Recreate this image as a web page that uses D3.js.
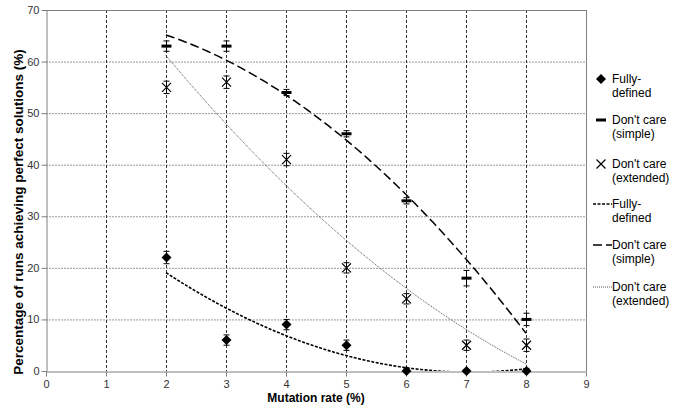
<!DOCTYPE html>
<html><head><meta charset="utf-8">
<script src="https://cdn.jsdelivr.net/npm/d3@7"></script>
<style>body{margin:0;background:#fff}svg{display:block;font-family:"Liberation Sans",Arial,sans-serif}</style>
</head><body><svg id="c" width="677" height="410"></svg>
<script>
const mutationRates = [2, 3, 4, 5, 6, 7, 8];
const fullyDefined = [22, 6, 9, 5, 0, 0, 0];
const fullyDefinedErr = [1.2, 1.0, 1.0, 1.0, 0.5, 0.3, 0.5];
const dcSimple = [63, 63, 54, 46, 33, 18, 10];
const dcSimpleErr = [1.0, 1.0, 0.6, 0.6, 0.6, 1.5, 1.2];
const dcExtended = [55, 56, 41, 20, 14, 5, 5];
const dcExtendedErr = [1.2, 1.2, 1.2, 1.0, 1.0, 1.0, 1.2];
const xTicks = [0,1,2,3,4,5,6,7,8,9];
const yTicks = [0,10,20,30,40,50,60,70];

const svg = d3.select("#c");
const L=46, R=586, T=10, B=371;
const x = d3.scaleLinear().domain([0,9]).range([L,R]);
const y = d3.scaleLinear().domain([0,70]).range([B,T]);

// gridlines
svg.append("g").selectAll("line").data(yTicks.filter(v=>v>0&&v<70)).join("line")
  .attr("x1",L).attr("x2",R).attr("y1",d=>y(d)+0.5).attr("y2",d=>y(d)+0.5)
  .attr("stroke","#999").attr("stroke-width",1).attr("stroke-dasharray","2,1");
svg.append("g").selectAll("line").data(xTicks.filter(v=>v>0&&v<9)).join("line")
  .attr("x1",d=>x(d)+0.5).attr("x2",d=>x(d)+0.5).attr("y1",T).attr("y2",B)
  .attr("stroke","#333").attr("stroke-width",1).attr("stroke-dasharray","3,2");
// frame
svg.append("line").attr("x1",L).attr("x2",R).attr("y1",T+0.5).attr("y2",T+0.5).attr("stroke","#808080");
svg.append("line").attr("x1",R+0.5).attr("x2",R+0.5).attr("y1",T).attr("y2",B).attr("stroke","#808080");

// axes
const xa = svg.append("g").attr("transform",`translate(0,${B+0.5})`)
  .call(d3.axisBottom(x).tickValues(xTicks).tickSize(5).tickSizeOuter(0).tickPadding(4));
const ya = svg.append("g").attr("transform",`translate(${L+0.5},0)`)
  .call(d3.axisLeft(y).tickValues(yTicks).tickSize(5).tickSizeOuter(0).tickPadding(2));
[xa,ya].forEach(a=>{
  a.select(".domain").attr("stroke","#808080");
  a.selectAll(".tick line").attr("stroke","#808080");
  a.selectAll(".tick text").attr("font-size",11).attr("fill","#333").attr("font-family","Liberation Sans, Arial, sans-serif");
});

// quadratic least-squares trendlines computed from the data
function quadFit(xs, ys){
  const n=xs.length, mx=d3.mean(xs);
  const u=xs.map(v=>v-mx);
  const Su2=d3.sum(u,v=>v*v), Su4=d3.sum(u,v=>v**4);
  const Sy=d3.sum(ys), Suy=d3.sum(u,(v,i)=>v*ys[i]), Su2y=d3.sum(u,(v,i)=>v*v*ys[i]);
  const Bc=Suy/Su2;
  const C=(Su2y - Su2*Sy/n)/(Su4 - Su2*Su2/n);
  const A=(Sy - C*Su2)/n;
  return t=>A+Bc*(t-mx)+C*(t-mx)*(t-mx);
}
svg.append("clipPath").attr("id","pc").append("rect").attr("x",L).attr("y",T).attr("width",R-L).attr("height",B-T);
const samples = d3.range(0,121).map(i=>2+6*i/120);
const trendStyles = [
  {data:fullyDefined, dash:"3,1.5", w:1.6, c:"#000"},
  {data:dcSimple, dash:"9,4", w:1.5, c:"#000"},
  {data:dcExtended, dash:"1,1", w:1, c:"#555"}
];
trendStyles.forEach(s=>{
  const f=quadFit(mutationRates,s.data);
  svg.append("path").attr("clip-path","url(#pc)")
    .attr("d",d3.line().x(d=>x(d)).y(d=>y(f(d)))(samples))
    .attr("fill","none").attr("stroke",s.c).attr("stroke-width",s.w).attr("stroke-dasharray",s.dash);
});

// error bars
function errBars(vals, errs){
  const g=svg.append("g").attr("stroke","#000").attr("stroke-width",1);
  mutationRates.forEach((m,i)=>{
    const cx=x(m)+0.5, y1=y(vals[i]+errs[i]), y2=y(Math.max(0,vals[i]-errs[i]));
    g.append("line").attr("x1",cx).attr("x2",cx).attr("y1",y1).attr("y2",y2);
    g.append("line").attr("x1",cx-3).attr("x2",cx+3).attr("y1",y1).attr("y2",y1);
    if(vals[i]-errs[i]>0) g.append("line").attr("x1",cx-3).attr("x2",cx+3).attr("y1",y2).attr("y2",y2);
  });
}
errBars(fullyDefined, fullyDefinedErr);
errBars(dcSimple, dcSimpleErr);
errBars(dcExtended, dcExtendedErr);

// markers
const diamond = (g,cx,cy)=>g.append("path").attr("d",`M${cx},${cy-5}L${cx+5},${cy}L${cx},${cy+5}L${cx-5},${cy}Z`).attr("fill","#000");
const dash = (g,cx,cy)=>g.append("rect").attr("x",cx-5).attr("y",cy-1.5).attr("width",10).attr("height",3).attr("fill","#000");
const cross = (g,cx,cy)=>g.append("path").attr("d",`M${cx-4.5},${cy-4.5}L${cx+4.5},${cy+4.5}M${cx+4.5},${cy-4.5}L${cx-4.5},${cy+4.5}`).attr("stroke","#000").attr("stroke-width",1.2).attr("fill","none");
const mg=svg.append("g");
mutationRates.forEach((m,i)=>{
  diamond(mg,x(m)+0.5,y(fullyDefined[i]));
  dash(mg,x(m)+0.5,y(dcSimple[i]));
  cross(mg,x(m)+0.5,y(dcExtended[i]));
});

// titles
svg.append("text").attr("x",(L+R)/2).attr("y",402).attr("text-anchor","middle")
  .attr("font-size",12).attr("font-weight","bold").text("Mutation rate (%)");
svg.append("text").attr("transform",`translate(23,212) rotate(-90)`).attr("text-anchor","middle")
  .attr("font-size",13.5).attr("font-weight","bold").text("Percentage of runs achieving perfect solutions (%)");

// legend
const legendLabels = [["Fully-","defined"],["Don't care","(simple)"],["Don't care","(extended)"],["Fully-","defined"],["Don't care","(simple)"],["Don't care","(extended)"]];
const legendY = [83, 124, 168, 208, 249, 291];
const lg=svg.append("g").attr("font-size",12).attr("fill","#000");
legendLabels.forEach((lab,i)=>{
  const ly=legendY[i];
  lg.append("text").attr("x",612).attr("y",ly).text(lab[0]);
  lg.append("text").attr("x",612).attr("y",ly+14).text(lab[1]);
  const my=ly-4;
  if(i===0) diamond(lg,601,my);
  if(i===1) dash(lg,601,my);
  if(i===2) cross(lg,601,my);
  if(i>=3){
    const s=trendStyles[i-3];
    lg.append("line").attr("x1",593).attr("x2",612).attr("y1",my).attr("y2",my)
      .attr("stroke",s.c).attr("stroke-width",s.w).attr("stroke-dasharray",s.dash);
  }
});
</script></body></html>
